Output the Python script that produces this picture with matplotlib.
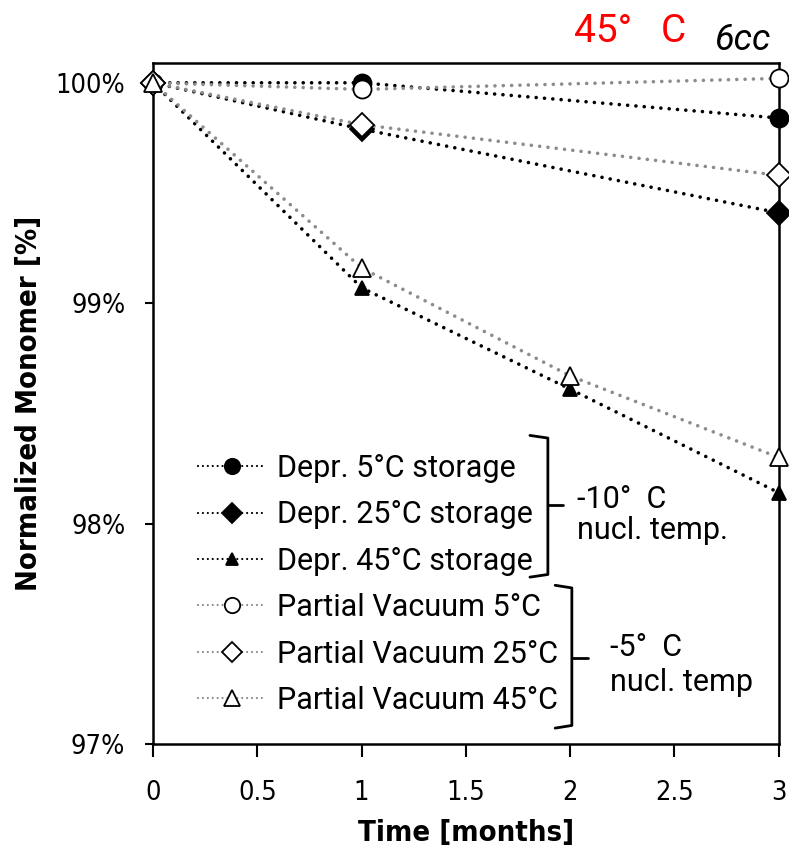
import matplotlib.pyplot as plt
from matplotlib import font_manager as fm

# data (months, % monomer)
t_depr5 = [0, 1, 3]
depr5 = [100.0, 100.0, 99.84]
t_depr25 = [0, 1, 3]
depr25 = [100.0, 99.79, 99.41]
t_depr45 = [0, 1, 2, 3]
depr45 = [100.0, 99.07, 98.61, 98.14]
t_pv5 = [0, 1, 3]
pv5 = [100.0, 99.97, 100.02]
t_pv25 = [0, 1, 3]
pv25 = [100.0, 99.81, 99.58]
t_pv45 = [0, 1, 2, 3]
pv45 = [100.0, 99.16, 98.67, 98.30]

x_ticks = [0, 0.5, 1, 1.5, 2, 2.5, 3]
x_labels = ['0', '0.5', '1', '1.5', '2', '2.5', '3']
y_ticks = [97, 98, 99, 100]
y_labels = ['97%', '98%', '99%', '100%']

plt.rcParams['font.family'] = ['Roboto', 'DejaVu Sans']
tick_font = fm.FontProperties(family='DejaVu Sans', stretch='condensed', size=19.5)
lab_font = fm.FontProperties(family='DejaVu Sans', stretch='condensed', weight='bold', size=21)

fig = plt.figure(figsize=(7.89, 8.46), dpi=100)
ax = fig.add_axes([0.194, 0.1206, 0.793, 0.805])

black = 'black'
gray = '#8c8c8c'
ls = (0, (0.01, 2.3))

series = [
    (t_depr5, depr5, black, 'o', black, 13, 'Depr. 5°C storage'),
    (t_depr25, depr25, black, 'D', black, 12, 'Depr. 25°C storage'),
    (t_depr45, depr45, black, '^', black, 10, 'Depr. 45°C storage'),
    (t_pv5, pv5, gray, 'o', 'white', 13, 'Partial Vacuum 5°C'),
    (t_pv25, pv25, gray, 'D', 'white', 12, 'Partial Vacuum 25°C'),
    (t_pv45, pv45, gray, '^', 'white', 13, 'Partial Vacuum 45°C'),
]
for x, y, c, m, fc, ms, lab in series:
    ax.plot(x, y, linestyle=ls, color=c, linewidth=2.6, dash_capstyle='round',
            marker=m, markersize=ms, markerfacecolor=fc, markeredgecolor='black',
            markeredgewidth=1.3, label=lab, clip_on=False, zorder=3)

ax.set_xlim(0, 3)
ax.set_ylim(97, 100.09)
ax.set_xticks(x_ticks)
ax.set_xticklabels(x_labels, fontproperties=tick_font)
ax.set_yticks(y_ticks)
ax.set_yticklabels(y_labels, fontproperties=tick_font)
ax.tick_params(direction='out', width=1.5)
ax.tick_params(axis='x', length=9, pad=17)
ax.tick_params(axis='y', length=6, pad=14)
for s in ax.spines.values():
    s.set_linewidth(1.8)

ax.set_xlabel('Time [months]', fontproperties=lab_font, labelpad=9)
ax.set_ylabel('Normalized Monomer [%]', fontproperties=lab_font, labelpad=9)

leg = ax.legend(loc='upper left', bbox_to_anchor=(0.216, 0.496), bbox_transform=fig.transFigure,
                frameon=False, fontsize=22, handlelength=2.2, handletextpad=0.4,
                labelspacing=0.57, numpoints=1, markerscale=0.85, borderpad=0.4)
for h in leg.legend_handles:
    h.set_linewidth(1.6)
    h.set_linestyle((0, (0.01, 2.2)))


def bracket(x, y0, y1, ym, hook, tip):
    kw = dict(color='black', linewidth=2, solid_capstyle='round', clip_on=False)
    ax.plot([x - hook, x, x, x - hook], [y0, y0 - 0.012, y1 + 0.012, y1], **kw)
    ax.plot([x, x + tip], [ym, ym], **kw)


# brackets grouping the legend entries (data coords)
bracket(1.893, 98.40, 97.757, 98.085, 0.086, 0.072)
bracket(2.008, 97.72, 97.072, 97.39, 0.08, 0.077)
ax.text(2.032, 98.04, '-10°  C\nnucl. temp.', fontsize=22, va='center', ha='left', linespacing=1.1)
ax.text(2.19, 97.36, '-5°  C\nnucl. temp', fontsize=22, va='center', ha='left', linespacing=1.25)

fig.text(0.727, 0.963, '45°   C', color='red', fontsize=28, ha='left', va='center')
fig.text(0.905, 0.953, '6cc', color='black', fontsize=26, style='italic', ha='left', va='center')

fig.savefig('out.png', dpi=100)
